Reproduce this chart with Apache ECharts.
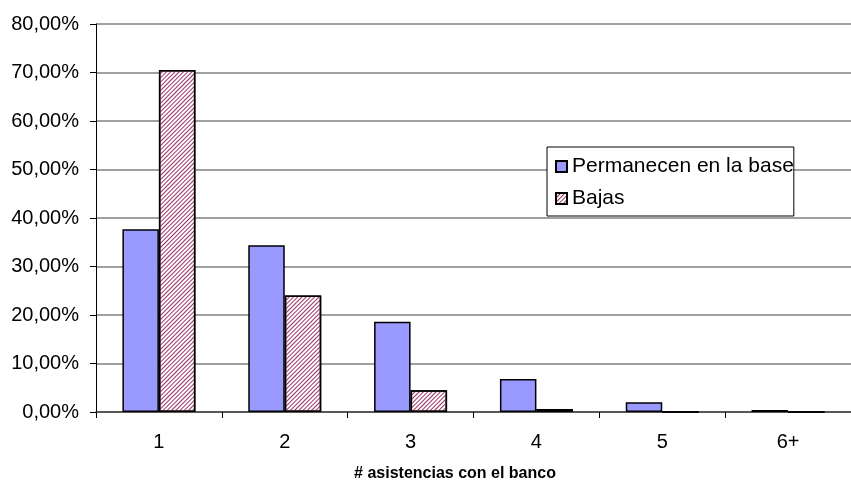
<!DOCTYPE html>
<html>
<head>
<meta charset="utf-8">
<script src="https://cdn.jsdelivr.net/npm/echarts@6/dist/echarts.min.js"></script>
<style>html,body{margin:0;padding:0;background:#fff}#c{width:851px;height:486px}</style>
</head>
<body>
<div id="c"></div>
<script>
const categories = ['1', '2', '3', '4', '5', '6+'];
const permanecen = [37.7, 34.4, 18.6, 6.8, 2.0, 0.4];
const bajas = [70.5, 24.0, 4.5, 0.6, 0, 0];
const seriesNames = ['Permanecen en la base', 'Bajas'];
const xTitle = '# asistencias con el banco';

const hatch = {
  symbol: 'rect',
  color: '#993366',
  dashArrayX: [1, 0],
  dashArrayY: [1, 2],
  rotation: -Math.PI / 4,
  symbolSize: 1
};

const chart = echarts.init(document.getElementById('c'));
chart.setOption({
  animation: false,
  backgroundColor: '#ffffff',
  textStyle: { fontFamily: 'Liberation Sans, Arial, sans-serif' },
  grid: { left: 96, right: -11, top: 24, bottom: 74, containLabel: false },
  title: {
    text: xTitle,
    left: 450, top: 461, textAlign: 'center',
    textStyle: { fontSize: 16, fontWeight: 'bold', color: '#000', fontFamily: 'Liberation Sans, Arial, sans-serif' }
  },
  legend: {
    orient: 'vertical',
    left: 547, top: 147,
    padding: [9, 0, 7, 8],
    itemGap: 11,
    itemWidth: 11, itemHeight: 11,
    borderColor: '#000', borderWidth: 1,
    backgroundColor: '#fff',
    textStyle: { fontSize: 21, color: '#000' },
    data: [
      { name: seriesNames[0], icon: 'rect' },
      { name: seriesNames[1], icon: 'rect' }
    ]
  },
  xAxis: {
    type: 'category',
    data: categories,
    axisLine: { lineStyle: { color: '#404040', width: 1.5 } },
    axisTick: { show: true, length: 6, lineStyle: { color: '#000' } },
    axisLabel: { fontSize: 20, color: '#000', margin: 20 },
    splitLine: { show: false }
  },
  yAxis: {
    type: 'value',
    min: 0, max: 80, interval: 10,
    axisLine: { show: true, lineStyle: { color: '#000', width: 1 } },
    axisTick: { show: true, length: 6, lineStyle: { color: '#000' } },
    axisLabel: {
      fontSize: 20, color: '#000', margin: 17,
      formatter: v => v.toFixed(2).replace('.', ',') + '%'
    },
    splitLine: { show: true, lineStyle: { color: '#808080', width: 1.5 } }
  },
  series: [
    {
      name: seriesNames[0], type: 'bar', data: permanecen,
      barGap: '0%', barCategoryGap: '42%',
      itemStyle: { color: '#9999FF', borderColor: '#000', borderWidth: 1.5 }
    },
    {
      name: seriesNames[1], type: 'bar', data: bajas,
      itemStyle: { color: '#ffffff', decal: hatch, borderColor: '#000', borderWidth: 1.5 }
    }
  ]
});
</script>
</body>
</html>
